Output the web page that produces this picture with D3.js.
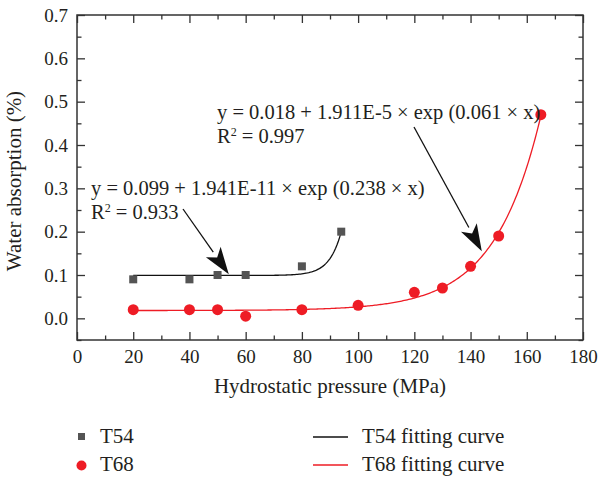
<!DOCTYPE html>
<html><head><meta charset="utf-8">
<script src="https://cdn.jsdelivr.net/npm/d3@7"></script>
<style>body{margin:0;background:#fff}svg{display:block}svg text{font-family:"Liberation Serif","Times New Roman",serif !important;fill:#231f20}</style>
</head><body><svg id="c" width="600" height="479"></svg>
<script>
// Data
const t54X = [20, 40, 50, 60, 80, 94];
const t54Y = [0.09, 0.09, 0.10, 0.10, 0.12, 0.20];
const t68X = [20, 40, 50, 60, 80, 100, 120, 130, 140, 150, 165];
const t68Y = [0.02, 0.02, 0.02, 0.005, 0.02, 0.03, 0.06, 0.07, 0.12, 0.19, 0.47];
// fitting equations y = a + b*exp(c*x) as printed in the chart
const t54Fit = [0.099, 1.941e-11, 0.238];
const t68Fit = [0.018, 1.911e-5, 0.061];
const xTicks = [0, 20, 40, 60, 80, 100, 120, 140, 160, 180];
const yTicks = [0.0, 0.1, 0.2, 0.3, 0.4, 0.5, 0.6, 0.7];

const FONT = '"Liberation Serif","Times New Roman",serif';
const svg = d3.select("#c");
const L = 77, R = 583, T = 15, B = 340;
const x = d3.scaleLinear().domain([0, 180]).range([L, R]);
const y = d3.scaleLinear().domain([-0.05, 0.7]).range([B, T]);
const axisCol = "#333";

const g = svg.append("g");
function tickAxis(axisGen, tr, labels) {
  const a = g.append("g").attr("transform", tr);
  a.call(axisGen);
  a.attr("font-family", FONT);
  a.select(".domain").remove();
  a.selectAll("line").attr("stroke", axisCol).attr("stroke-width", 1.3);
  if (!labels) a.selectAll("text").remove();
  else a.selectAll("text").style("font-family", FONT).attr("font-size", 19).attr("fill", "#231f20");
  return a;
}
const xMinor = d3.range(10, 180, 20);
const yMinor = [-0.05, 0.05, 0.15, 0.25, 0.35, 0.45, 0.55, 0.65];
tickAxis(d3.axisBottom(x).tickValues(xTicks).tickSize(-8).tickPadding(10).tickFormat(d3.format("d")), `translate(0,${B})`, true);
tickAxis(d3.axisBottom(x).tickValues(xMinor).tickSize(-4.5), `translate(0,${B})`, false);
tickAxis(d3.axisTop(x).tickValues(xTicks).tickSize(-8), `translate(0,${T})`, false);
tickAxis(d3.axisTop(x).tickValues(xMinor).tickSize(-4.5), `translate(0,${T})`, false);
tickAxis(d3.axisLeft(y).tickValues(yTicks).tickSize(-8).tickPadding(9).tickFormat(d3.format(".1f")), `translate(${L},0)`, true);
tickAxis(d3.axisLeft(y).tickValues(yMinor).tickSize(-4.5), `translate(${L},0)`, false);
tickAxis(d3.axisRight(y).tickValues(yTicks).tickSize(-8), `translate(${R},0)`, false);
tickAxis(d3.axisRight(y).tickValues(yMinor).tickSize(-4.5), `translate(${R},0)`, false);

svg.append("rect").attr("x", L).attr("y", T).attr("width", R - L).attr("height", B - T)
  .attr("fill", "none").attr("stroke", axisCol).attr("stroke-width", 1.5);

// Axis titles
svg.append("text").attr("x", 330).attr("y", 393).attr("text-anchor", "middle")
  .attr("font-size", 21).text("Hydrostatic pressure (MPa)");
svg.append("text").attr("transform", "translate(21,181) rotate(-90)").attr("text-anchor", "middle")
  .attr("font-size", 21).text("Water absorption (%)");

// Fit curves
const line = d3.line().x(d => x(d[0])).y(d => y(d[1]));
function fitPts(p, x0, x1) {
  return d3.range(x0, x1 + 0.001, 0.5).map(v => [v, p[0] + p[1] * Math.exp(p[2] * v)]);
}
svg.append("path").attr("d", line(fitPts(t54Fit, t54X[0], t54X[t54X.length - 1])))
  .attr("fill", "none").attr("stroke", "#111").attr("stroke-width", 1.3);
svg.append("path").attr("d", line(fitPts(t68Fit, t68X[0], t68X[t68X.length - 1])))
  .attr("fill", "none").attr("stroke", "#ee1c25").attr("stroke-width", 1.3);

// Points
const sq = 8;
svg.append("g").selectAll("rect").data(t54X).join("rect")
  .attr("x", d => x(d) - sq / 2).attr("y", (d, i) => y(t54Y[i]) - sq / 2)
  .attr("width", sq).attr("height", sq).attr("fill", "#545454");
svg.append("g").selectAll("circle").data(t68X).join("circle")
  .attr("cx", d => x(d)).attr("cy", (d, i) => y(t68Y[i])).attr("r", 5.5).attr("fill", "#ee1c25");

// Annotations
function arrow(x0, y0, x1, y1) {
  const ang = Math.atan2(y1 - y0, x1 - x0);
  const hl = 27, hw = 9;
  const bx = x1 - hl * Math.cos(ang), by = y1 - hl * Math.sin(ang);
  svg.append("line").attr("x1", x0).attr("y1", y0).attr("x2", bx).attr("y2", by)
    .attr("stroke", "#111").attr("stroke-width", 1.3);
  const px = -Math.sin(ang) * hw, py = Math.cos(ang) * hw;
  svg.append("path").attr("d", `M${x1},${y1}L${bx + px},${by + py}L${bx + 0.25*hl*Math.cos(ang)},${by + 0.25*hl*Math.sin(ang)}L${bx - px},${by - py}Z`)
    .attr("fill", "#111");
}
const eq1 = "y = 0.018 + 1.911E-5 × exp (0.061 × x)";
const eq2 = "y = 0.099 + 1.941E-11 × exp (0.238 × x)";
svg.append("text").attr("x", 217).attr("y", 119).attr("font-size", 20.5).text(eq1);
const r1 = svg.append("text").attr("x", 217).attr("y", 143).attr("font-size", 20.5);
r1.append("tspan").text("R");
r1.append("tspan").attr("dy", -7).attr("font-size", 12).text("2");
r1.append("tspan").attr("dy", 7).text(" = 0.997");
svg.append("text").attr("x", 91).attr("y", 195).attr("font-size", 20.5).text(eq2);
const r2 = svg.append("text").attr("x", 91).attr("y", 219).attr("font-size", 20.5);
r2.append("tspan").text("R");
r2.append("tspan").attr("dy", -7).attr("font-size", 12).text("2");
r2.append("tspan").attr("dy", 7).text(" = 0.933");
arrow(183, 209, x(54), y(0.102));
arrow(414, 127, x(144), y(0.155));

// Legend
const lg = svg.append("g");
lg.append("rect").attr("x", 78).attr("y", 433).attr("width", 7).attr("height", 7).attr("fill", "#545454");
lg.append("text").attr("x", 100).attr("y", 443).attr("font-size", 21).text("T54");
lg.append("circle").attr("cx", 81.5).attr("cy", 465.5).attr("r", 5).attr("fill", "#ee1c25");
lg.append("text").attr("x", 100).attr("y", 471).attr("font-size", 21).text("T68");
lg.append("line").attr("x1", 313).attr("x2", 348).attr("y1", 437).attr("y2", 437).attr("stroke", "#111").attr("stroke-width", 1.3);
lg.append("text").attr("x", 362).attr("y", 443).attr("font-size", 21).text("T54 fitting curve");
lg.append("line").attr("x1", 313).attr("x2", 348).attr("y1", 465).attr("y2", 465).attr("stroke", "#ee1c25").attr("stroke-width", 1.3);
lg.append("text").attr("x", 362).attr("y", 471).attr("font-size", 21).text("T68 fitting curve");
</script></body></html>
